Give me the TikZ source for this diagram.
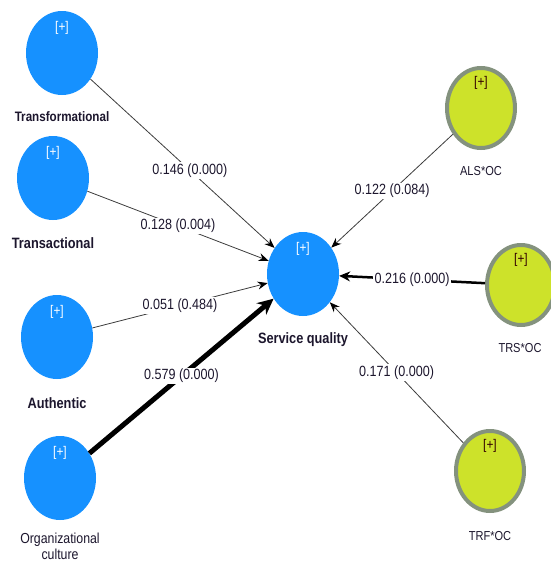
\documentclass[tikz,border=0pt]{standalone}
\usepackage{fontspec}
\setmainfont{Liberation Sans}[FakeStretch=0.85]
\usetikzlibrary{shapes.geometric,arrows.meta}

\definecolor{lvblue}{RGB}{22,145,255}
\definecolor{lvgreen}{RGB}{205,226,42}
\definecolor{lvrim}{RGB}{132,146,126}
\definecolor{pathgray}{RGB}{60,60,60}
\definecolor{inktext}{RGB}{28,22,45}

\tikzset{
  lv/.style={ellipse, fill=lvblue, minimum width=72pt, minimum height=84pt, inner sep=0pt},
  modlv/.style={ellipse, fill=lvgreen, draw=lvrim, line width=4pt, minimum width=68pt, minimum height=80pt, inner sep=0pt},
  plusw/.style={text=white, inner sep=0pt, font=\fontsize{14}{14}\selectfont},
  plusd/.style={text=black!80!red, inner sep=0pt, font=\fontsize{14}{14}\selectfont},
  lvname/.style={text=inktext, inner sep=0pt, font=\bfseries\fontsize{15}{17}\selectfont},
  plainname/.style={text=inktext, inner sep=0pt, font=\fontsize{13}{16}\selectfont},
  coef/.style={fill=white, text=inktext, inner sep=1.5pt, font=\fontsize{14.8}{15}\selectfont},
  thinpath/.style={draw=pathgray, line width=0.8pt, -{Stealth[length=10pt, width=8pt, color=black]}},
}

\begin{document}
\begin{tikzpicture}[x=1pt, y=-1pt]
  \useasboundingbox (0,0) rectangle (551,563);
  \clip (0,0) rectangle (551,563);

  % latent variables
  \node[lv] (tf) at (62,53) {};
  \node[lv] (ta) at (53,178) {};
  \node[lv] (au) at (57,337) {};
  \node[lv] (oc) at (60,478) {};
  \node[lv] (sq) at (303,274) {};
  \node[modlv] (als) at (481,108) {};
  \node[modlv] (trs) at (521,285) {};
  \node[modlv] (trf) at (490,471) {};

  % the [+] marks
  \foreach \v in {tf,ta,au,oc,sq}
    \node[plusw] (\v-plus) at ([yshift=-17pt]\v.north) {[+]};
  \foreach \v in {als,trs,trf}
    \node[plusd] (\v-plus) at ([yshift=-17pt]\v.north) {[+]};

  % names
  \node[lvname, font=\bfseries\fontsize{13.7}{15}\selectfont] (tf-name) at (62,117) {Transformational};
  \node[lvname] (ta-name) at (53,243) {Transactional};
  \node[lvname] (au-name) at (57,403) {Authentic};
  \node[plainname, align=center, font=\fontsize{14.5}{16}\selectfont] (oc-name) at (60,546) {Organizational\\culture};
  \node[lvname] (sq-name) at (303,340) {Service quality};
  \node[plainname] (als-name) at (481,171) {ALS*OC};
  \node[plainname] (trs-name) at (520,348) {TRS*OC};
  \node[plainname] (trf-name) at (490,536) {TRF*OC};

  % paths
  \draw[thinpath] (tf) -- node[coef, pos=.54] (tf-coef) {0.146 (0.000)} (sq);
  \draw[thinpath] (ta) -- node[coef] (ta-coef) {0.128 (0.004)} (sq);
  \draw[thinpath] (au) -- node[coef] (au-coef) {0.051 (0.484)} (sq);
  \draw[draw=black, line width=5pt, -{Stealth[length=16pt, width=15pt]}] (oc) -- node[coef] (oc-coef) {0.579 (0.000)} (sq);
  \draw[thinpath] (als) -- node[coef] (als-coef) {0.122 (0.084)} (sq);
  \draw[draw=black, line width=2.5pt, -{Stealth[length=11pt, width=10pt]}] (trs) -- node[coef] (trs-coef) {0.216 (0.000)} (sq);
  \draw[thinpath] (trf) -- node[coef] (trf-coef) {0.171 (0.000)} (sq);
\end{tikzpicture}
\end{document}
